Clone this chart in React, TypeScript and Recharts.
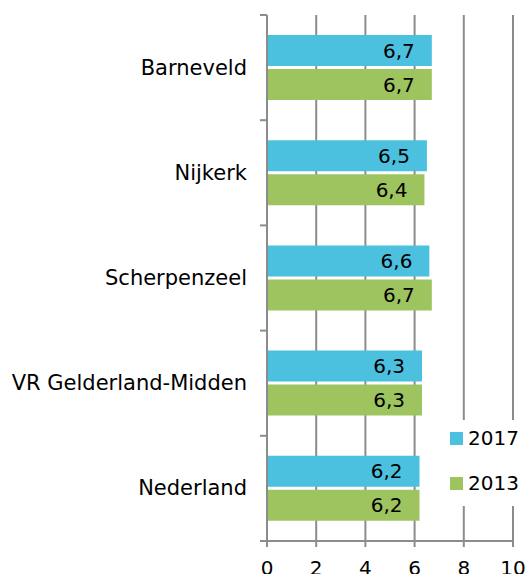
import React from 'react';
import { BarChart, Bar, XAxis, YAxis, CartesianGrid, Legend, LabelList } from 'recharts';

const regions = ['Barneveld', 'Nijkerk', 'Scherpenzeel', 'VR Gelderland-Midden', 'Nederland'];
const values2017 = [6.7, 6.5, 6.6, 6.3, 6.2];
const values2013 = [6.7, 6.4, 6.7, 6.3, 6.2];
const seriesNames = ['2017', '2013'];
const xTicks = [0, 2, 4, 6, 8, 10];

const data = regions.map((name, i) => ({ name, y2017: values2017[i], y2013: values2013[i] }));

const WIDTH = 526;
const HEIGHT = 574;
const MARGIN = { top: 15, right: 13, bottom: 0, left: 0 };
const X_AXIS_HEIGHT = 33;
const Y_AXIS_WIDTH = 267;
const AXIS_X = MARGIN.left + Y_AXIS_WIDTH;
const BAND = (HEIGHT - MARGIN.top - MARGIN.bottom - X_AXIS_HEIGHT) / regions.length;

const GRAY = '#8c8c8c';
const BLUE = '#4bc0df';
const GREEN = '#9dc45f';
const FONT = 'Verdana, "DejaVu Sans", sans-serif';

const fmt = (v: any) => String(v).replace('.', ',');

// category labels sit in the middle, tick marks on the band boundaries (like Excel)
const CategoryTick = (props: any) => {
  const { x, y, payload, index } = props;
  const half = BAND / 2;
  return (
    <g>
      <line x1={AXIS_X - 7} x2={AXIS_X} y1={y - half} y2={y - half} stroke={GRAY} strokeWidth={2} />
      {index === regions.length - 1 && (
        <line x1={AXIS_X - 7} x2={AXIS_X} y1={y + half} y2={y + half} stroke={GRAY} strokeWidth={2} />
      )}
      <text x={x} y={y} textAnchor="end" dominantBaseline="central" fontSize={21} fill="#000" fontFamily={FONT}>
        {payload.value}
      </text>
    </g>
  );
};

const LegendBox = (props: any) => {
  const items = [...(props.payload || [])].sort((a: any, b: any) =>
    seriesNames.indexOf(a.value) - seriesNames.indexOf(b.value));
  return (
    <div style={{ fontFamily: FONT, fontSize: 20, color: '#000' }}>
      {items.map((it: any, i: number) => (
        <div key={i} style={{ display: 'flex', alignItems: 'center', height: 36, marginBottom: 9, paddingLeft: 12 }}>
          <span style={{ display: 'inline-block', width: 13, height: 13, background: it.color, marginRight: 5 }} />
          <span>{it.value}</span>
        </div>
      ))}
    </div>
  );
};

export default function App() {
  return (
    <div style={{ position: 'absolute', left: 0, top: 0 }}>
      <BarChart
        width={WIDTH}
        height={HEIGHT}
        data={data}
        layout="vertical"
        margin={MARGIN}
        barSize={31}
        barGap={3}
        style={{ fontFamily: FONT }}
      >
        <CartesianGrid horizontal={false} stroke={GRAY} strokeWidth={2} />
        <XAxis
          type="number"
          domain={[0, 10]}
          ticks={xTicks}
          height={X_AXIS_HEIGHT}
          axisLine={{ stroke: GRAY, strokeWidth: 2 }}
          tickLine={{ stroke: GRAY, strokeWidth: 2 }}
          tickSize={6}
          tickMargin={14}
          tick={{ fontSize: 20, fill: '#000', fontFamily: FONT }}
        />
        <YAxis
          type="category"
          dataKey="name"
          width={Y_AXIS_WIDTH}
          axisLine={{ stroke: GRAY, strokeWidth: 2 }}
          tickLine={false}
          tickSize={0}
          tickMargin={20}
          tick={<CategoryTick />}
          interval={0}
        />
        <Legend
          layout="vertical"
          align="center"
          verticalAlign="middle"
          content={<LegendBox />}
          wrapperStyle={{ position: 'absolute', left: 438, top: 420, width: 88, height: 86, background: '#fff' }}
        />
        <Bar dataKey="y2017" name="2017" fill={BLUE} isAnimationActive={false}>
          <LabelList dataKey="y2017" position="insideRight" offset={17} formatter={fmt} fill="#000" fontSize={20} fontFamily={FONT} />
        </Bar>
        <Bar dataKey="y2013" name="2013" fill={GREEN} isAnimationActive={false}>
          <LabelList dataKey="y2013" position="insideRight" offset={17} formatter={fmt} fill="#000" fontSize={20} fontFamily={FONT} />
        </Bar>
      </BarChart>
    </div>
  );
}
